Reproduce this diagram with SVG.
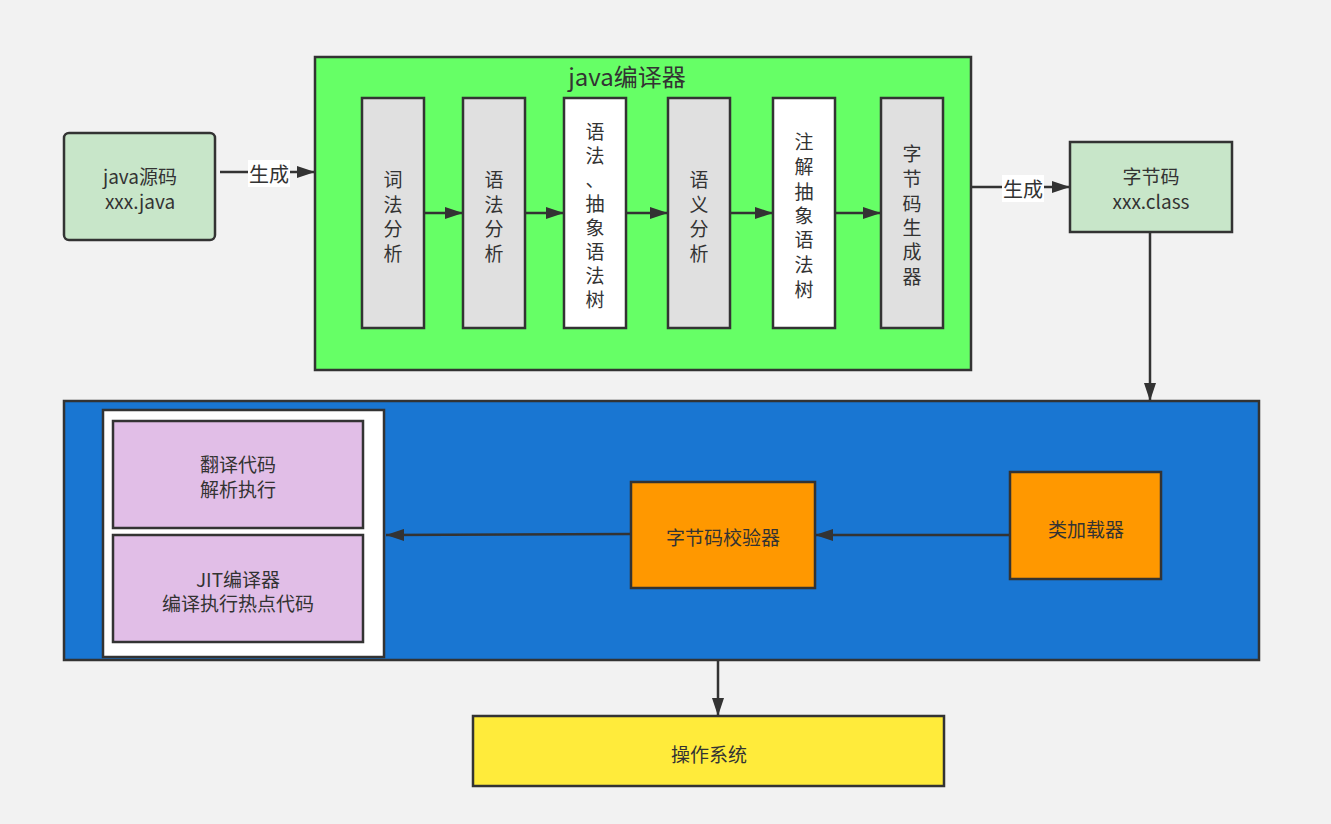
<svg xmlns="http://www.w3.org/2000/svg" width="1331" height="824" viewBox="0 0 1331 824">
<defs>
<marker id="arr" markerUnits="userSpaceOnUse" markerWidth="18" markerHeight="12" refX="18" refY="6" orient="auto">
<path d="M0,0 L18,6 L0,12 z" fill="#333"/>
</marker>
<style>
.box{stroke:#333;stroke-width:2.5}
.t{font-family:"Noto Sans CJK SC","Liberation Sans",sans-serif;font-size:19px;fill:#333;text-anchor:middle;dominant-baseline:central}
.ln{stroke:#333;stroke-width:2.5;fill:none}
.lbl{fill:#fff}
</style>
</defs>
<rect width="1331" height="824" fill="#f2f2f2"/>

<g id="java-source">
<rect class="box" x="64" y="133" width="151" height="107" rx="5" fill="#c8e6c9"/>
<text class="t" x="140" y="175">java源码</text>
<text class="t" x="140" y="200">xxx.java</text>
</g>

<g id="java-compiler">
<rect class="box" x="315" y="57" width="656" height="313" fill="#66ff66"/>
<text class="t" x="627" y="75" style="font-size:24px">java编译器</text>
</g>

<g id="lexical">
<rect class="box" x="362" y="98" width="62" height="230" fill="#e0e0e0"/>
<text class="t" x="393"><tspan x="393" y="178">词</tspan><tspan x="393" y="203">法</tspan><tspan x="393" y="227">分</tspan><tspan x="393" y="252">析</tspan></text>
</g>

<g id="syntax">
<rect class="box" x="463" y="98" width="62" height="230" fill="#e0e0e0"/>
<text class="t" x="494"><tspan x="494" y="178">语</tspan><tspan x="494" y="203">法</tspan><tspan x="494" y="227">分</tspan><tspan x="494" y="252">析</tspan></text>
</g>

<g id="ast">
<rect class="box" x="564" y="98" width="62" height="230" fill="#ffffff"/>
<text class="t" x="595"><tspan x="595" y="130">语</tspan><tspan x="595" y="154">法</tspan><tspan x="595" y="178">、</tspan><tspan x="595" y="202">抽</tspan><tspan x="595" y="226">象</tspan><tspan x="595" y="250">语</tspan><tspan x="595" y="274">法</tspan><tspan x="595" y="298">树</tspan></text>
</g>

<g id="semantic">
<rect class="box" x="668" y="98" width="62" height="230" fill="#e0e0e0"/>
<text class="t" x="699"><tspan x="699" y="178">语</tspan><tspan x="699" y="203">义</tspan><tspan x="699" y="227">分</tspan><tspan x="699" y="252">析</tspan></text>
</g>

<g id="annotated-ast">
<rect class="box" x="773" y="98" width="62" height="230" fill="#ffffff"/>
<text class="t" x="804"><tspan x="804" y="140">注</tspan><tspan x="804" y="165">解</tspan><tspan x="804" y="190">抽</tspan><tspan x="804" y="214">象</tspan><tspan x="804" y="238">语</tspan><tspan x="804" y="263">法</tspan><tspan x="804" y="288">树</tspan></text>
</g>

<g id="bytecode-gen">
<rect class="box" x="881" y="98" width="62" height="230" fill="#e0e0e0"/>
<text class="t" x="912"><tspan x="912" y="152">字</tspan><tspan x="912" y="177">节</tspan><tspan x="912" y="202">码</tspan><tspan x="912" y="226">生</tspan><tspan x="912" y="250">成</tspan><tspan x="912" y="275">器</tspan></text>
</g>

<g id="bytecode">
<rect class="box" x="1070" y="142" width="162" height="90" fill="#c8e6c9"/>
<text class="t" x="1151" y="175">字节码</text>
<text class="t" x="1151" y="200">xxx.class</text>
</g>

<g id="jvm">
<rect class="box" x="64" y="401" width="1195" height="259" fill="#1976d2"/>
</g>

<g id="engine">
<rect class="box" x="103" y="410" width="281" height="247" fill="#ffffff"/>
</g>

<g id="interpreter">
<rect class="box" x="113" y="421" width="250" height="107" fill="#e1bee7"/>
<text class="t" x="238" y="463">翻译代码</text>
<text class="t" x="238" y="488">解析执行</text>
</g>

<g id="jit">
<rect class="box" x="113" y="535" width="250" height="107" fill="#e1bee7"/>
<text class="t" x="238" y="578">JIT编译器</text>
<text class="t" x="238" y="602">编译执行热点代码</text>
</g>

<g id="verifier">
<rect class="box" x="631" y="482" width="184" height="106" fill="#ff9800"/>
<text class="t" x="723" y="536">字节码校验器</text>
</g>

<g id="classloader">
<rect class="box" x="1010" y="472" width="151" height="107" fill="#ff9800"/>
<text class="t" x="1086" y="528">类加载器</text>
</g>

<g id="os">
<rect class="box" x="473" y="716" width="471" height="70" fill="#ffeb3b"/>
<text class="t" x="709" y="753">操作系统</text>
</g>

<g id="connectors">
<line class="ln" x1="220" y1="172" x2="315" y2="172" marker-end="url(#arr)"/>
<rect class="lbl" x="248" y="160" width="42" height="27"/>
<text class="t" x="269" y="173" style="font-size:20px">生成</text>

<line class="ln" x1="424" y1="213" x2="463" y2="213" marker-end="url(#arr)"/>
<line class="ln" x1="525" y1="213" x2="564" y2="213" marker-end="url(#arr)"/>
<line class="ln" x1="626" y1="213" x2="668" y2="213" marker-end="url(#arr)"/>
<line class="ln" x1="730" y1="213" x2="773" y2="213" marker-end="url(#arr)"/>
<line class="ln" x1="835" y1="213" x2="881" y2="213" marker-end="url(#arr)"/>

<line class="ln" x1="971" y1="187" x2="1070" y2="187" marker-end="url(#arr)"/>
<rect class="lbl" x="1002" y="175" width="42" height="27"/>
<text class="t" x="1023" y="188" style="font-size:20px">生成</text>

<line class="ln" x1="1150" y1="232" x2="1150" y2="401" marker-end="url(#arr)"/>
<line class="ln" x1="1010" y1="535" x2="815" y2="535" marker-end="url(#arr)"/>
<line class="ln" x1="631" y1="534" x2="386" y2="535" marker-end="url(#arr)"/>
<line class="ln" x1="718" y1="660" x2="718" y2="716" marker-end="url(#arr)"/>
</g>
</svg>
